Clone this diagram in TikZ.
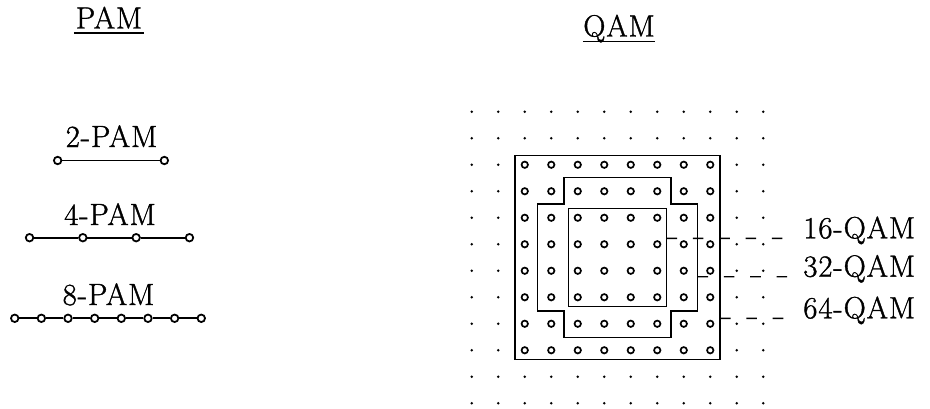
\documentclass[tikz,border=0pt]{standalone}
\usepackage{fontspec}
\usepackage{xcolor}
\usepackage{tikz}
\newfontfamily\sigfont{Latin Modern Roman}[FakeBold=1.2,LetterSpace=3]
\definecolor{SigInk}{HTML}{000000}
\tikzset{
  bigtext/.style={font=\sigfont\fontsize{17.5}{20}\selectfont,text=SigInk,inner sep=0pt},
  pampt/.style={circle,draw=SigInk,fill=white,line width=1pt,inner sep=0pt,minimum size=.15cm},
  pamline/.style={SigInk,line width=1pt},
  qampt/.style={SigInk,fill=white,line width=.95pt},
  qambox/.style={SigInk,line width=1pt},
  leader/.style={SigInk,line width=.8pt,dash pattern=on 6pt off 9pt,shorten >=.12cm}
}

\begin{document}
\begin{tikzpicture}[x=1cm,y=1cm]
\path[use as bounding box] (0,0) rectangle (18.60,8.16);
\fill[white] (0,0) rectangle (18.60,8.16);
\node[bigtext,anchor=base,inner xsep=1pt] (tpam) at (2.18,7.59) {PAM};
\draw[SigInk,line width=1pt] ([yshift=-2.4pt]tpam.base west) -- ([yshift=-2.4pt]tpam.base east);
\node[bigtext,anchor=base] (tqam) at (12.38,7.43) {QAM};
\draw[SigInk,line width=1pt] ([yshift=-2.8pt]tqam.base west) -- ([yshift=-2.8pt]tqam.base east);
\node[pampt] (a1) at (1.153,4.95) {};
\node[pampt] (a2) at (3.287,4.95) {};
\draw[pamline] (a1) -- (a2);
\node[bigtext,anchor=base] (t2) at (2.23,5.22) {2-PAM};
\foreach \k in {1,...,4}
  \node[pampt] (b\k) at ({2.19+(\k-2.5)*1.066},3.406) {};
\foreach \k [count=\n from 2] in {1,...,3}
  \draw[pamline] (b\k) -- (b\n);
\node[bigtext,anchor=base] (t4) at (2.20,3.66) {4-PAM};
\foreach \k in {1,...,8}
  \node[pampt] (c\k) at ({2.16+(\k-4.5)*0.533},1.794) {};
\foreach \k [count=\n from 2] in {1,...,7}
  \draw[pamline] (c\k) -- (c\n);
\node[bigtext,anchor=base] (t8) at (2.17,2.06) {8-PAM};
\begin{scope}[shift={(12.35,3.01)}]
\foreach \i in {-5.5,-4.5,...,5.5}
  \foreach \j in {-5.5,-4.5,...,5.5}
    \fill[SigInk] (\i*0.53,\j*0.53) circle (.026);
\foreach \i in {-3.5,-2.5,...,3.5}
  \foreach \j in {-3.5,-2.5,...,3.5}
    \filldraw[qampt] (\i*0.53,\j*0.53) circle (.064);
\draw[qambox] (-2.05,-2.04) rectangle (2.05,2.04);
\draw[qambox] (-0.98,-0.98) rectangle (0.98,0.98);
\draw[qambox] (-1.07,1.60) -- (1.07,1.60) -- (1.07,1.07) -- (1.60,1.07)
  -- (1.60,-1.07) -- (1.07,-1.07) -- (1.07,-1.60) -- (-1.07,-1.60)
  -- (-1.07,-1.07) -- (-1.60,-1.07) -- (-1.60,1.07) -- (-1.07,1.07) -- cycle;
\coordinate (e16) at (0.98,0.384);
\coordinate (e32) at (1.60,-0.384);
\coordinate (e64) at (2.05,-1.216);
\end{scope}
\node[bigtext,anchor=base west] (l16) at (16.06,3.394) {16-QAM};
\node[bigtext,anchor=base west] (l32) at (16.06,2.626) {32-QAM};
\node[bigtext,anchor=base west] (l64) at (16.06,1.794) {64-QAM};
\draw[leader] (e16) -- (l16.base west);
\draw[leader] (e32) -- (l32.base west);
\draw[leader] (e64) -- (l64.base west);
\end{tikzpicture}
\end{document}
